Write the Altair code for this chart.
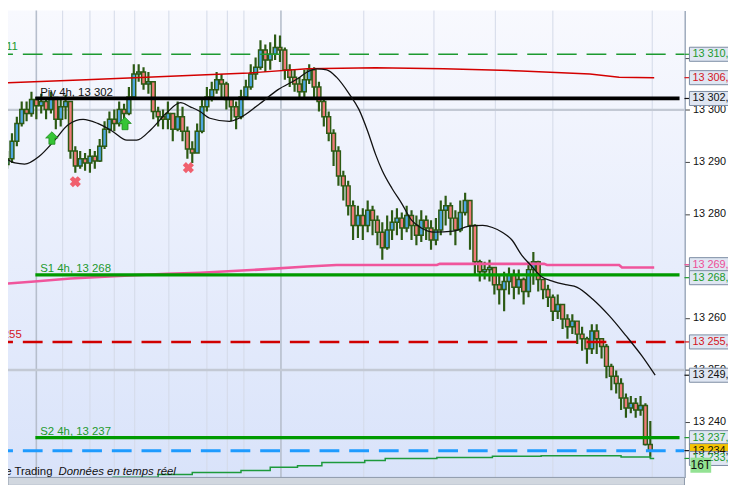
import altair as alt
import pandas as pd

# ---------------- data ----------------
candle_close = [
    13290.6, 13294.0, 13297.4, 13300.1, 13299.3, 13302.0, 13300.8, 13301.6, 13300.1, 13302.4,
    13298.2, 13300.6, 13301.6, 13292.1, 13289.2, 13290.6, 13289.8, 13291.1, 13290.2, 13293.0,
    13296.3, 13298.2, 13297.4, 13300.1, 13299.3, 13302.5, 13306.9, 13307.3, 13305.0, 13305.4,
    13299.7, 13298.7, 13298.2, 13299.3, 13296.3, 13298.7, 13295.9, 13292.5, 13291.7, 13295.9,
    13300.6, 13302.5, 13303.9, 13305.8, 13305.0, 13302.0, 13300.6, 13298.7, 13302.5, 13304.4,
    13306.9, 13308.2, 13311.5, 13309.6, 13310.7, 13312.0, 13311.5, 13307.7, 13306.3, 13305.0,
    13303.5, 13305.8, 13307.7, 13304.4, 13301.6, 13298.7, 13295.5, 13292.1, 13287.3, 13285.4,
    13281.6, 13277.8, 13279.7, 13277.8, 13280.7, 13278.8, 13276.5, 13273.5, 13276.9, 13278.4,
    13279.2, 13277.3, 13279.7, 13277.8, 13275.9, 13278.8, 13277.3, 13275.0, 13276.9, 13280.7,
    13281.6, 13279.2, 13276.9, 13280.3, 13282.6, 13277.8, 13270.8, 13268.9, 13269.3, 13269.7,
    13266.4, 13265.5, 13267.0, 13268.3, 13265.9, 13267.4, 13265.1, 13269.3, 13270.8, 13267.4,
    13265.5, 13264.0, 13261.3, 13262.6, 13259.8, 13258.3, 13259.4, 13256.9, 13256.0, 13254.1,
    13257.5, 13256.0, 13254.5, 13250.7, 13248.8, 13247.4, 13244.6, 13242.7, 13243.6, 13242.3,
    13243.2, 13235.7, 13234.5]
candle_high = [
    13292.1, 13295.5, 13298.7, 13301.6, 13301.6, 13303.5, 13302.5, 13303.1, 13302.4, 13303.5,
    13302.5, 13302.0, 13302.9, 13301.6, 13293.0, 13292.1, 13291.7, 13292.5, 13292.1, 13294.4,
    13297.8, 13299.7, 13300.1, 13301.6, 13301.2, 13304.4, 13308.8, 13308.8, 13308.2, 13307.3,
    13305.4, 13300.6, 13300.1, 13301.6, 13299.3, 13301.6, 13300.6, 13296.8, 13294.0, 13297.4,
    13302.0, 13304.4, 13305.4, 13307.3, 13306.9, 13305.4, 13302.5, 13301.6, 13303.9, 13305.8,
    13308.8, 13310.1, 13313.4, 13312.6, 13313.0, 13314.5, 13314.3, 13312.0, 13308.8, 13307.7,
    13306.3, 13307.7, 13308.8, 13308.2, 13305.4, 13302.0, 13299.7, 13296.3, 13293.0, 13288.3,
    13286.4, 13282.6, 13281.6, 13281.1, 13282.6, 13281.6, 13279.7, 13278.4, 13279.7, 13280.7,
    13281.1, 13280.3, 13281.6, 13280.7, 13279.7, 13280.7, 13279.7, 13278.8, 13279.2, 13282.6,
    13283.5, 13282.2, 13280.7, 13282.6, 13284.1, 13282.6, 13278.0, 13271.2, 13270.8, 13271.2,
    13269.7, 13268.3, 13268.9, 13269.7, 13269.3, 13269.3, 13267.8, 13270.8, 13272.7, 13271.0,
    13267.4, 13266.4, 13264.5, 13264.5, 13262.6, 13260.7, 13260.7, 13259.4, 13258.3, 13256.4,
    13258.8, 13258.8, 13256.0, 13255.0, 13251.2, 13249.9, 13248.4, 13245.5, 13245.0, 13244.6,
    13245.0, 13243.6, 13240.2]
candle_low = [
    13288.7, 13289.8, 13293.0, 13296.8, 13297.8, 13298.7, 13298.2, 13299.3, 13298.2, 13299.3,
    13296.3, 13296.8, 13298.2, 13290.6, 13287.9, 13288.7, 13288.3, 13287.9, 13288.7, 13290.0,
    13292.5, 13295.5, 13295.9, 13296.8, 13298.2, 13299.0, 13302.5, 13305.4, 13303.9, 13303.1,
    13298.2, 13296.8, 13296.3, 13296.3, 13294.0, 13295.9, 13294.0, 13290.6, 13289.8, 13291.7,
    13295.5, 13299.7, 13301.6, 13303.1, 13302.5, 13300.1, 13297.8, 13296.3, 13298.2, 13302.0,
    13303.9, 13305.8, 13307.7, 13307.3, 13307.7, 13309.6, 13309.2, 13305.8, 13304.4, 13303.5,
    13302.4, 13302.5, 13305.0, 13302.5, 13299.7, 13296.8, 13294.0, 13289.2, 13285.4, 13282.6,
    13279.7, 13275.0, 13275.4, 13275.0, 13276.5, 13275.9, 13274.0, 13271.2, 13273.1, 13275.0,
    13275.9, 13275.0, 13276.5, 13275.0, 13274.0, 13274.6, 13275.0, 13273.1, 13274.0, 13275.9,
    13277.8, 13275.9, 13274.0, 13276.5, 13279.7, 13273.1, 13268.3, 13267.0, 13267.4, 13267.0,
    13264.5, 13262.6, 13261.3, 13264.5, 13263.6, 13264.5, 13262.6, 13264.0, 13266.4, 13265.1,
    13263.6, 13262.1, 13259.4, 13259.8, 13257.9, 13256.0, 13256.9, 13255.0, 13253.7, 13251.2,
    13253.1, 13253.1, 13252.2, 13248.4, 13246.1, 13245.5, 13242.3, 13240.8, 13241.7, 13240.8,
    13241.2, 13235.5, 13233.2]
first_open = 13289.5

# black moving average
ma_idx = [-0.4, 1.6, 3.6, 6.6, 9.6, 12.6, 15.6, 18.6, 21.6, 24.6, 26.6, 29.6, 32.6, 35.6, 37.6,
          39.6, 41.6, 45.6, 47.6, 51.6, 55.6, 59.6, 61.6, 63.6, 65.6, 67.6, 70.2, 72.2, 74.0, 75.6,
          77.0, 79.0, 81.0, 83.0, 85.0, 87.6, 91.6, 94.6, 97.6, 99.6, 101.6, 103.6, 105.6, 107.6,
          109.6, 112.2, 114.6, 117.0, 120.2, 123.6, 127.0, 130.2, 133.0]
ma_val = [13290.8, 13289.8, 13289.6, 13291.1, 13294.0, 13297.2, 13298.2, 13297.4, 13295.9, 13294.2,
          13294.2, 13296.3, 13299.3, 13301.4, 13300.6, 13299.7, 13298.4, 13297.8, 13298.4, 13301.0,
          13303.9, 13306.0, 13307.3, 13307.9, 13307.7, 13306.3, 13303.1, 13300.1, 13295.9, 13291.5,
          13288.3, 13284.9, 13282.0, 13278.8, 13277.3, 13276.5, 13276.7, 13277.6, 13277.8, 13277.4,
          13276.5, 13275.0, 13272.1, 13270.0, 13268.0, 13267.0, 13266.4, 13265.9, 13263.6, 13260.4,
          13256.6, 13252.8, 13249.0]

# red upper curve
red_idx = [-0.4, 16.2, 26.2, 39.6, 49.6, 61.6, 75.6, 89.6, 105.6, 119.6, 125.6, 132.8]
red_val = [13305.2, 13305.8, 13306.2, 13306.7, 13307.1, 13307.9, 13308.1, 13307.9, 13307.5,
           13306.9, 13306.3, 13306.2]

# pink curve
pink_idx = [-0.4, 5.6, 13.0, 23.0, 33.0, 39.6, 51.6, 61.6, 67.6, 88.2, 88.8, 110.2, 110.8,
            125.6, 126.2, 132.8]
pink_val = [13266.6, 13267.0, 13267.6, 13268.1, 13268.5, 13268.7, 13269.3, 13269.9, 13270.2,
            13270.2, 13270.4, 13270.4, 13270.2, 13270.2, 13269.7, 13269.7]

# thin green lower curve
band_idx = [21.6, 31.0, 38.0, 48.0, 54.0, 59.6, 64.6, 73.4, 77.6, 88.2, 99.6, 109.6, 126.0, 132.0, 132.8]
band_val = [13229.4, 13229.9, 13230.3, 13230.7, 13231.3, 13231.6, 13232.2, 13232.6, 13233.0,
            13233.2, 13233.4, 13233.5, 13233.3, 13233.0, 13233.0]

# vertical session separators (bar index)
grid_idx = [6.0, 11.4, 17.0, 22.0, 26.2, 33.2, 41.0, 45.2, 48.6, 56.2, 73.2, 87.6, 100.2, 112.0, 132.4]
grid_major = [1, 0, 0, 0, 0, 0, 0, 0, 0, 1, 0, 0, 0, 0, 0]
hgrid_val = [13300, 13250]

# horizontal levels
lvl_top_dash = 13310.7
lvl_piv = 13302.2
lvl_s1 = 13268.3
lvl_red_dash = 13255.4
lvl_s2 = 13237.0
lvl_last = 13234.5
pivot_start = 5.8

# signals
arrow_idx = [9.2, 24.2]
arrow_val = [13294.6, 13297.4]
cross_idx = [14.0, 37.2]
cross_val = [13286.2, 13288.9]

# price boxes on the right scale
box_series = ["Canal haut", "Moyenne rouge", "Piv 4h", "Moyenne rose", "S1 4h", "Seuil",
              "Moyenne noire", "S2 4h", "Dernier", "Canal bas"]
box_val = [13310.7, 13306.2, 13302.2, 13269.7, 13268.3, 13255.4, 13249.0, 13237.0, 13234.5, 13233.0]
box_text = ["13 310,7", "13 306,2", "13 302,2", "13 269,7", "13 268,3", "13 255,4", "13 249,0",
            "13 237,0", "13 234,5", "13 233,0"]
tag_text = "16T"
tag_val = 13231.7

y_ticks = [13240, 13250, 13260, 13270, 13280, 13290, 13300, 13310, 13320]

# ---------------- chart ----------------
W, H = 684, 472
FONT = "Liberation Sans"
FS = 11
DG = "#2c5a14"
GREEN = "#1c9a2c"
xs = alt.Scale(domain=[1.2, 138.0], nice=False, zero=False)
ys = alt.Scale(domain=[13229.35, 13319.09], nice=False, zero=False)

Y_AXIS = alt.Axis(
    orient="right", values=y_ticks,
    labelExpr="replace(format(datum.value, ','), ',', ' ')",
    domain=True, domainColor="#7e8fa6", domainWidth=1.5,
    ticks=True, tickColor="#444444", tickSize=5, tickWidth=1,
    labelFont=FONT, labelFontSize=FS, labelColor="#111111", labelPadding=3,
    grid=False, labelFlush=False, labelOverlap=False, title=None, zindex=0)


def X(f):
    return alt.X(f, type="quantitative", scale=xs, axis=None, title=None)


def Y(f):
    return alt.Y(f, type="quantitative", scale=ys, axis=Y_AXIS, title=None)


one = pd.DataFrame({"k": [0]})

opens = [first_open] + candle_close[:-1]
cdf = pd.DataFrame({
    "idx": list(range(len(candle_close))),
    "open": opens, "close": candle_close, "high": candle_high, "low": candle_low,
})
cdf["dir"] = ["up" if c >= o else "down" for o, c in zip(opens, candle_close)]

bg = alt.Chart(one).mark_rect(
    color=alt.Gradient(
        gradient="linear",
        stops=[alt.GradientStop(color="#f8f9fe", offset=0),
               alt.GradientStop(color="#d9e3fa", offset=1)],
        x1=0, x2=0, y1=0, y2=1)
).encode(x=alt.value(0), x2=alt.value(W), y=alt.value(0), y2=alt.value(H))

vg = alt.Chart(pd.DataFrame({"idx": grid_idx, "major": grid_major})).mark_rule().encode(
    x=X("idx"),
    color=alt.Color("major:N", scale=alt.Scale(domain=[0, 1], range=["#d3dae8", "#b6becc"]), legend=None),
    strokeWidth=alt.StrokeWidth("major:N", scale=alt.Scale(domain=[0, 1], range=[1, 1.6]), legend=None),
)
hg = alt.Chart(pd.DataFrame({"v": hgrid_val})).mark_rule(color="#c3c9d4", strokeWidth=2.4).encode(y=Y("v"))

wick = alt.Chart(cdf).mark_rule(color=DG, strokeWidth=2.2, clip=True).encode(
    x=X("idx"), y=Y("low"), y2=alt.Y2("high"),
)
body = alt.Chart(cdf).mark_bar(size=3.9, stroke=DG, strokeWidth=1.5, clip=True).encode(
    x=X("idx"), y=Y("open"), y2=alt.Y2("close"),
    color=alt.Color("dir:N", scale=alt.Scale(domain=["up", "down"], range=["#4ea6e0", "#f07a78"]), legend=None),
)


def curve(idx, val, color, width, interp="linear"):
    return alt.Chart(pd.DataFrame({"i": idx, "v": val})).mark_line(
        color=color, strokeWidth=width, clip=True, interpolate=interp
    ).encode(x=X("i"), y=Y("v"))


band = curve(band_idx, band_val, "#1d9a3c", 1.5, "step-after")
pink = curve(pink_idx, pink_val, "#f0559c", 2.6)
red = curve(red_idx, red_val, "#d40000", 1.5)
ma = curve(ma_idx, ma_val, "#111111", 1.3, "monotone")


def hline(v, color, width, dash=None):
    kw = dict(color=color, strokeWidth=width, clip=True)
    if dash:
        kw.update(strokeDash=dash, strokeDashOffset=11)
    return alt.Chart(pd.DataFrame({"v": [v]})).mark_rule(**kw).encode(y=Y("v"))


def pline(v, color, width):
    return alt.Chart(pd.DataFrame({"a": [pivot_start], "b": [138.0], "v": [v]})).mark_rule(
        color=color, strokeWidth=width, clip=True
    ).encode(x=X("a"), x2=alt.X2("b"), y=Y("v"))


top_dash = hline(lvl_top_dash, "#1d9a30", 1.5, [20, 10])
red_dash = hline(lvl_red_dash, "#d00000", 2.5, [20, 10])
blue_dash = hline(lvl_last, "#1e9bff", 3, [20, 10])
piv = pline(lvl_piv, "#000000", 3.8)
s1 = pline(lvl_s1, "#009a00", 3.2)
s2 = pline(lvl_s2, "#009a00", 3.2)

arrows = alt.Chart(pd.DataFrame({"i": arrow_idx, "v": arrow_val})).mark_point(
    shape="M-0.48,1L0.48,1L0.48,0L1,0L0,-1L-1,0L-0.48,0Z",
    filled=True, size=160, fill="#36c536", stroke="#1f8a1f", strokeWidth=0.8, opacity=1
).encode(x=X("i"), y=Y("v"))
crosses = alt.Chart(pd.DataFrame({"i": cross_idx, "v": cross_val})).mark_point(
    shape="cross", angle=45, filled=True, size=130, color="#f0606e", opacity=1
).encode(x=X("i"), y=Y("v"))


def ltext(txt, i, v, color, align="left", dy=-3):
    return alt.Chart(pd.DataFrame({"i": [i], "v": [v]})).mark_text(
        text=txt, align=align, baseline="alphabetic", dy=dy, font=FONT, fontSize=FS + 0.5,
        color=color, clip=False
    ).encode(x=X("i"), y=Y("v"))


t_piv = ltext("Piv 4h, 13 302", pivot_start + 1.0, lvl_piv, "#111111")
t_s1 = ltext("S1 4h, 13 268", pivot_start + 1.0, lvl_s1, GREEN)
t_s2 = ltext("S2 4h, 13 237", pivot_start + 1.0, lvl_s2, GREEN)
t_top = ltext("13 311", 2.2, lvl_top_dash, GREEN, "right", -4)
t_red = ltext("13 255", 3.0, lvl_red_dash, "#d4141c", "right", -4)

strip = alt.Chart(one).mark_rect(fill="#d1d7df", stroke="#8d99aa", strokeWidth=1, clip=False).encode(
    x=alt.value(0), x2=alt.value(W), y=alt.value(H), y2=alt.value(H + 8))
brand = alt.Chart(one).mark_text(text="ProRealTime Trading", align="right", baseline="alphabetic",
                                 font=FONT, fontSize=FS + 0.5, color="#111111", clip=False).encode(
    x=alt.value(45), y=alt.value(470))
live = alt.Chart(one).mark_text(text="Données en temps réel", align="left", baseline="alphabetic",
                                font=FONT, fontSize=FS + 0.5, fontStyle="italic", color="#111111",
                                clip=False).encode(x=alt.value(51), y=alt.value(470))

# price boxes
nudge = {"Moyenne rose": 0.55, "S1 4h": -0.55}
bdf = pd.DataFrame({"series": box_series, "val": box_val, "label": box_text})
bdf["ypos"] = [v + nudge.get(s, 0.0) for s, v in zip(box_series, box_val)]
bdf["top"] = bdf["ypos"] + 1.35
bdf["bot"] = bdf["ypos"] - 1.35
series_colors = ["#1c9a2c", "#d4141c", "#111111", "#ee4d97", "#1c9a2c", "#d4141c", "#111111",
                 "#1c9a2c", "#111111", "#1c9a2c"]
series_fills = ["#dfe6f2"] * 8 + ["#f6c400", "#dfe6f2"]

boxes = alt.Chart(bdf).mark_rect(stroke="#7b8ca3", strokeWidth=1, clip=False).encode(
    x=alt.value(W + 5), x2=alt.value(W + 60), y=Y("top"), y2=alt.Y2("bot"),
    fill=alt.Fill("series:N", scale=alt.Scale(domain=box_series, range=series_fills), legend=None),
)
stubs = alt.Chart(bdf).mark_rule(strokeWidth=1.2, clip=False).encode(
    x=alt.value(W), x2=alt.value(W + 5), y=Y("ypos"),
    color=alt.Color("series:N", scale=alt.Scale(domain=box_series, range=series_colors), legend=None),
)
btext = alt.Chart(bdf).mark_text(align="left", baseline="middle", font=FONT, fontSize=FS,
                                 clip=False).encode(
    x=alt.value(W + 8), y=Y("ypos"), text="label:N",
    color=alt.Color("series:N", scale=alt.Scale(domain=box_series, range=series_colors), legend=None),
)
tdf = pd.DataFrame({"v": [tag_val], "t": [tag_text]})
tdf["top"] = tdf["v"] + 1.45
tdf["bot"] = tdf["v"] - 1.45
tag_box = alt.Chart(tdf).mark_rect(fill="#93e293", clip=False).encode(
    x=alt.value(W + 6), x2=alt.value(W + 27), y=Y("top"), y2=alt.Y2("bot"))
tag_txt = alt.Chart(tdf).mark_text(align="center", baseline="middle", font=FONT, fontSize=FS + 1,
                                   color="#111111", clip=False).encode(
    x=alt.value(W + 16.5), y=Y("v"), text="t:N")

chart = alt.layer(
    bg, vg, hg, wick, body, band, pink, red, top_dash, red_dash, blue_dash, piv, s1, s2, ma,
    arrows, crosses, t_piv, t_s1, t_s2, t_top, t_red, strip, brand, live,
    stubs, boxes, btext, tag_box, tag_txt
).resolve_scale(color="independent", fill="independent", strokeWidth="independent").properties(
    width=W, height=H,
    autosize=alt.AutoSizeParams(type="none"),
    padding={"left": 0, "top": 0, "right": 44, "bottom": 5},
    background="white",
).configure_view(stroke=None)

chart.save("out.html", embed_options={"renderer": "svg", "actions": False})
